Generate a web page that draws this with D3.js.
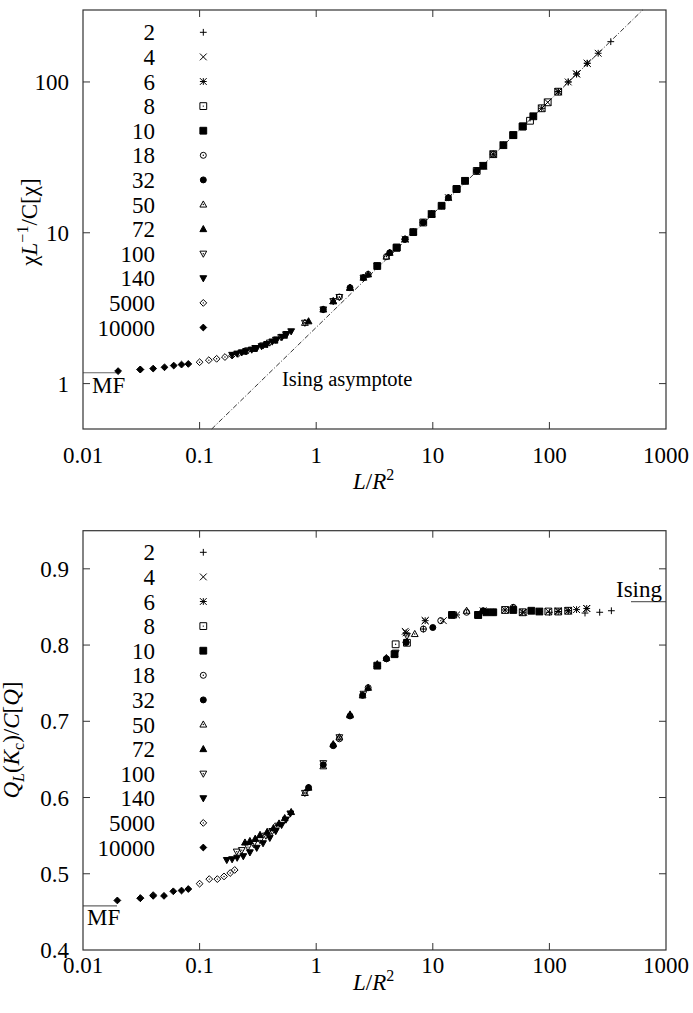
<!DOCTYPE html>
<html><head><meta charset="utf-8">
<script src="https://cdn.jsdelivr.net/npm/d3@7"></script>
<style>
html,body{margin:0;padding:0;background:#fff;}
svg text{font-family:"Liberation Serif","Times New Roman",serif;fill:#000;}
</style></head>
<body>
<svg id="chart" width="693" height="1013"></svg>
<script>
// ---------------- DATA ----------------
const seriesNames = ["2","4","6","8","10","18","32","50","72","100","140","5000","10000"];
const markerTypes = ["plus","cross","star","squareDot","squareFill","circleDot","circleFill","triUp","triUpFill","triDown","triDownFill","diamond","diamondFill"];
const xTicks = [0.01,0.1,1,10,100,1000];
const xTickLabels = ["0.01","0.1","1","10","100","1000"];
const chiTicks = [1,10,100];
const chiTickLabels = ["1","10","100"];
const qTicks = [0.4,0.5,0.6,0.7,0.8,0.9];
const qTickLabels = ["0.4","0.5","0.6","0.7","0.8","0.9"];
const chiMF = 1.18, qMF = 0.458, qIsing = 0.857;
const isingAsymptote = [[0.127,0.5],[631,300]];

// top panel: chi L^-1 / C[chi] vs L/R^2, one array per series
const chi_2 = [[40.3,38.1],[72.8,59.2],[119,86.2],[145,100],[171,113],[211,133],[262,155],[336,185]];
const chi_4 = [[4.9,7.97],[13.6,17.1],[27.1,27.8],[49,44.4],[72.8,59.2],[96.7,73.3],[119,86.2],[171,113],[211,133],[262,155]];
const chi_6 = [[5.78,9.06],[9.77,13.3],[18.9,22.1],[27.1,27.8],[33,33.2],[40.3,38.1],[59,50.7],[85.9,66.9],[119,86.2],[145,100],[171,113],[211,133]];
const chi_8 = [[4.9,7.97],[8.28,11.7],[16,19.5],[23.8,25.7],[33,33.2],[49,44.4],[59,50.7],[68.2,55.3],[85.9,66.9],[96.7,73.3],[119,86.2]];
const chi_10 = [[3.34,6.02],[4.9,7.97],[6.8,10.1],[9.77,13.3],[11.9,15.1],[16,19.5],[18.9,22.1],[27.1,27.8],[40.3,38.1],[49,44.4],[59,50.7],[72.8,59.2]];
const chi_18 = [[1.58,3.75],[2.79,5.3],[4.0,6.95],[5.78,9.06],[8.28,11.7],[11.9,15.1],[16,19.5],[18.9,22.1],[23.8,25.7],[33,33.2]];
const chi_32 = [[1.15,3.1],[1.95,4.32],[2.54,5.04],[3.34,6.02],[4.27,7.37],[5.78,9.06],[6.8,10.1],[8.28,11.7],[9.77,13.3],[13.6,17.1],[23.8,25.7]];
const chi_50 = [[0.8,2.53],[1.4,3.52],[1.95,4.32],[2.54,5.04],[4.0,6.95],[6.8,10.1],[9.77,13.3],[13.6,17.1]];
const chi_72 = [[0.24,1.63],[0.29,1.70],[0.36,1.81],[0.44,1.93],[0.53,2.08],[0.86,2.59],[1.15,3.1],[1.4,3.52],[1.95,4.32],[2.79,5.3],[4.27,7.37],[5.78,9.06]];
const chi_100 = [[0.26,1.66],[0.3,1.72],[0.35,1.79],[0.4,1.87],[0.45,1.95],[0.5,2.03],[0.55,2.12],[0.8,2.53],[1.15,3.1],[1.4,3.52],[1.58,3.75],[2.54,5.04],[3.34,6.02]];
const chi_140 = [[0.19,1.55],[0.21,1.58],[0.23,1.61],[0.25,1.64],[0.28,1.68],[0.31,1.72],[0.34,1.77],[0.38,1.83],[0.42,1.90],[0.46,1.96],[0.51,2.04],[0.56,2.13],[0.61,2.22]];
const chi_5000 = [[0.031,1.24],[0.1,1.386],[0.12,1.43],[0.14,1.46],[0.165,1.50],[0.19,1.535],[0.214,1.576]];
const chi_10000 = [[0.02,1.21],[0.031,1.24],[0.04,1.258],[0.05,1.283],[0.06,1.317],[0.07,1.337],[0.08,1.35]];

// bottom panel: Q_L(K_c)/C[Q] vs L/R^2
const q_2 = [[8.3,0.821],[100,0.843],[145,0.845],[171,0.8465],[202,0.842],[270,0.843],[340,0.845]];
const q_4 = [[5.8,0.818],[8.6,0.832],[12.3,0.832],[60,0.843],[98,0.844],[119,0.845],[145,0.845],[171,0.8465],[209,0.848]];
const q_6 = [[5.9,0.816],[8.6,0.832],[16,0.8395],[27,0.845],[41.7,0.846],[59,0.843],[82,0.844],[119,0.844],[145,0.845],[209,0.848]];
const q_8 = [[4.8,0.801],[6.0,0.803],[24.5,0.8395],[41.7,0.846],[59,0.843],[98,0.844],[119,0.844],[145,0.845]];
const q_10 = [[3.34,0.773],[4.7,0.788],[14.6,0.8395],[24.5,0.8395],[28.8,0.843],[33,0.843],[49,0.846],[70,0.845],[82,0.844]];
const q_18 = [[1.58,0.677],[2.79,0.744],[4.0,0.782],[5.9,0.8035],[8.3,0.821],[11.7,0.832],[19.5,0.843],[33,0.843],[49,0.8495]];
const q_32 = [[0.86,0.613],[1.15,0.643],[1.4,0.668],[1.95,0.707],[2.5,0.734],[4.0,0.782],[5.9,0.8035],[10,0.823],[14.6,0.8395],[27,0.845]];
const q_50 = [[0.8,0.606],[1.15,0.641],[1.58,0.679],[1.95,0.709],[2.5,0.734],[4.0,0.783],[7.0,0.8145],[19.5,0.845],[49,0.849]];
const q_72 = [[0.245,0.541],[0.27,0.543],[0.30,0.546],[0.33,0.551],[0.38,0.555],[0.43,0.560],[0.48,0.566],[0.537,0.573],[0.61,0.581],[0.86,0.613],[1.4,0.670],[1.95,0.708],[2.79,0.744],[3.34,0.775],[4.7,0.788]];
const q_100 = [[0.208,0.529],[0.23,0.531],[0.26,0.535],[0.29,0.539],[0.33,0.544],[0.37,0.550],[0.42,0.556],[0.47,0.563],[0.8,0.606],[1.15,0.645],[1.58,0.679],[2.54,0.736],[4.8,0.790],[6.0,0.812]];
const q_140 = [[0.171,0.518],[0.19,0.519],[0.21,0.521],[0.237,0.523],[0.27,0.528],[0.309,0.534],[0.35,0.540],[0.40,0.547],[0.45,0.556],[0.505,0.564],[0.55,0.571],[0.6,0.579]];
const q_5000 = [[0.031,0.468],[0.04,0.472],[0.1,0.487],[0.121,0.493],[0.142,0.493],[0.162,0.4965],[0.183,0.501],[0.2,0.505]];
const q_10000 = [[0.0197,0.465],[0.031,0.468],[0.04,0.471],[0.0495,0.471],[0.0595,0.477],[0.07,0.478],[0.08,0.480]];

const chiSeries = [chi_2,chi_4,chi_6,chi_8,chi_10,chi_18,chi_32,chi_50,chi_72,chi_100,chi_140,chi_5000,chi_10000];
const qSeries = [q_2,q_4,q_6,q_8,q_10,q_18,q_32,q_50,q_72,q_100,q_140,q_5000,q_10000];

// ---------------- DRAWING ----------------
const svg = d3.select("#chart");
const FS = 23;
const left = 83, right = 666;
const x = d3.scaleLog().domain([0.01,1000]).range([left,right]);
const yTop = d3.scaleLog().domain([0.5,300]).range([429,10]);
const yBot = d3.scaleLinear().domain([0.4,0.95]).range([950,530.7]);

const H = 3.4;
function markerPath(t){
  const h=H;
  switch(t){
    case "plus": return `M${-h},0H${h}M0,${-h}V${h}`;
    case "cross": return `M${-h},${-h}L${h},${h}M${-h},${h}L${h},${-h}`;
    case "star": return `M${-h},0H${h}M0,${-h}V${h}M${-h},${-h}L${h},${h}M${-h},${h}L${h},${-h}`;
    case "squareDot": case "squareFill": return `M${-h},${-h}H${h}V${h}H${-h}Z`;
    case "triUp": case "triUpFill": return `M0,${-h*1.05}L${h},${h*0.75}L${-h},${h*0.75}Z`;
    case "triDown": case "triDownFill": return `M0,${h*1.05}L${h},${-h*0.75}L${-h},${-h*0.75}Z`;
    case "diamond": case "diamondFill": return `M0,${-h}L${h},0L0,${h}L${-h},0Z`;
  }
  return null;
}
function drawMarker(g, t, cx, cy){
  const filled = /Fill$/.test(t);
  if(t==="circleDot"||t==="circleFill"){
    g.append("circle").attr("cx",cx).attr("cy",cy).attr("r",H-0.4)
      .attr("fill",t==="circleFill"?"#000":"none").attr("stroke","#000").attr("stroke-width",1);
  } else {
    g.append("path").attr("d",markerPath(t)).attr("transform",`translate(${cx},${cy})`)
      .attr("fill",filled?"#000":"none").attr("stroke","#000").attr("stroke-width",1);
  }
  if(t==="squareDot"||t==="circleDot"||t==="triUp"||t==="triDown"||t==="diamond"){
    g.append("circle").attr("cx",cx).attr("cy",cy).attr("r",0.7).attr("fill","#000");
  }
}

function frame(yScale, top, bottom){
  const g = svg.append("g");
  xTicks.forEach(v=>{
    const px=x(v);
    if(px>left+0.5 && px<right-0.5){
      g.append("line").attr("x1",px).attr("x2",px).attr("y1",bottom).attr("y2",bottom-7).attr("stroke","#333");
      g.append("line").attr("x1",px).attr("x2",px).attr("y1",top).attr("y2",top+7).attr("stroke","#333");
    }
  });
  return g;
}

function yTicksDraw(g, yScale, ticks, labels, top, bottom){
  ticks.forEach((v,i)=>{
    const py=yScale(v);
    if(py<bottom-0.5 && py>top+0.5){
      g.append("line").attr("x1",left).attr("x2",left+7).attr("y1",py).attr("y2",py).attr("stroke","#333");
      g.append("line").attr("x1",right).attr("x2",right-7).attr("y1",py).attr("y2",py).attr("stroke","#333");
    }
    g.append("text").attr("x",69).attr("y",py+8).attr("text-anchor","end").attr("font-size",FS).text(labels[i]);
  });
}

function border(top,bottom){
  svg.append("rect").attr("x",left).attr("y",top).attr("width",right-left).attr("height",bottom-top)
    .attr("fill","none").attr("stroke","#333").attr("stroke-width",1.2);
}

function legend(y0){
  const g = svg.append("g");
  seriesNames.forEach((n,i)=>{
    const yy = y0 + i*24.6;
    g.append("text").attr("x",155).attr("y",yy+8).attr("text-anchor","end").attr("font-size",FS).text(n);
    drawMarker(g, markerTypes[i], 203.3, yy);
  });
}

function points(series, yScale){
  const g = svg.append("g");
  series.forEach((arr,i)=>{
    arr.forEach(d=>drawMarker(g, markerTypes[i], x(d[0]), yScale(d[1])));
  });
}

function xLabels(baseTick, baseLabel){
  xTicks.forEach((v,i)=>{
    svg.append("text").attr("x",x(v)).attr("y",baseTick).attr("text-anchor","middle").attr("font-size",FS).text(xTickLabels[i]);
  });
  const t = svg.append("text").attr("x",353).attr("y",baseLabel).attr("font-size",FS);
  t.append("tspan").attr("font-style","italic").text("L");
  t.append("tspan").text("/");
  t.append("tspan").attr("font-style","italic").text("R");
  t.append("tspan").attr("dy",-9).attr("font-size",16).text("2");
}

// ---------- TOP PANEL ----------
{
  const top=10,bottom=429;
  const g = frame(yTop, top, bottom);
  yTicksDraw(g, yTop, chiTicks, chiTickLabels, top, bottom);
  svg.append("line").attr("x1",left).attr("x2",117).attr("y1",yTop(chiMF)).attr("y2",yTop(chiMF)).attr("stroke","#666").attr("stroke-width",1.2);
  svg.append("text").attr("x",92).attr("y",393).attr("font-size",FS).text("MF");
  svg.append("line").attr("x1",x(isingAsymptote[0][0])).attr("y1",yTop(isingAsymptote[0][1]))
    .attr("x2",x(isingAsymptote[1][0])).attr("y2",yTop(isingAsymptote[1][1]))
    .attr("stroke","#000").attr("stroke-width",0.8).attr("stroke-dasharray","5,2,1,2");
  svg.append("text").attr("x",282).attr("y",386).attr("font-size",20.5).text("Ising asymptote");
  legend(32.3);
  points(chiSeries, yTop);
  border(top,bottom);
  xLabels(463, 489);
  const yl = svg.append("text").attr("transform","translate(37,222) rotate(-90)").attr("text-anchor","middle").attr("font-size",FS);
  yl.append("tspan").text("χ");
  yl.append("tspan").attr("font-style","italic").text("L");
  yl.append("tspan").attr("dy",-9).attr("font-size",16).text("−1");
  yl.append("tspan").attr("dy",9).text("/C[χ]");
}

// ---------- BOTTOM PANEL ----------
{
  const top=530.7,bottom=950;
  const g = frame(yBot, top, bottom);
  yTicksDraw(g, yBot, qTicks, qTickLabels, top, bottom);
  svg.append("line").attr("x1",left).attr("x2",117).attr("y1",yBot(qMF)).attr("y2",yBot(qMF)).attr("stroke","#666").attr("stroke-width",1.2);
  svg.append("text").attr("x",87).attr("y",925).attr("font-size",FS).text("MF");
  svg.append("line").attr("x1",631).attr("x2",right).attr("y1",yBot(qIsing)).attr("y2",yBot(qIsing)).attr("stroke","#666").attr("stroke-width",1.2);
  svg.append("text").attr("x",662).attr("y",597).attr("text-anchor","end").attr("font-size",FS).text("Ising");
  legend(552.3);
  points(qSeries, yBot);
  border(top,bottom);
  xLabels(973, 990);
  const yl = svg.append("text").attr("transform","translate(19,740) rotate(-90)").attr("text-anchor","middle").attr("font-size",FS);
  yl.append("tspan").attr("font-style","italic").text("Q");
  yl.append("tspan").attr("dy",5).attr("font-size",16).attr("font-style","italic").text("L");
  yl.append("tspan").attr("dy",-5).text("(");
  yl.append("tspan").attr("font-style","italic").text("K");
  yl.append("tspan").attr("dy",5).attr("font-size",16).text("c");
  yl.append("tspan").attr("dy",-5).text(")/");
  yl.append("tspan").attr("font-style","italic").text("C");
  yl.append("tspan").text("[");
  yl.append("tspan").attr("font-style","italic").text("Q");
  yl.append("tspan").text("]");
}
</script>
</body></html>
